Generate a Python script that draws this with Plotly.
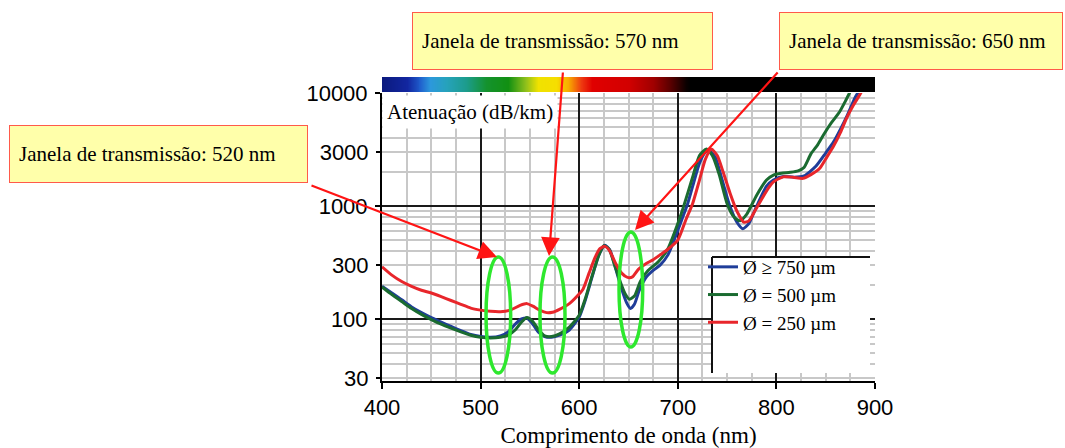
import math
import plotly.graph_objects as go

# Attenuation spectra of PMMA optical fibres, three core diameters (dB/km)
wl_blue = [400, 410, 420, 430, 440, 450, 460, 470, 480, 490, 500, 510, 520, 528, 535, 541, 547,
           553, 559, 565, 572, 580, 590, 600, 606, 613, 620, 626, 631, 637, 643, 648, 652, 656,
           661, 668, 675, 682, 690, 700, 705, 710, 716, 722, 728, 732, 738, 745, 752, 760, 766,
           772, 780, 790, 797, 807, 818, 828, 840, 850, 858, 865, 872, 880, 884]
att_blue = [195, 170, 148, 128, 114, 103, 94, 86, 79, 73, 70, 69, 71, 77, 90, 100, 102,
            90, 76, 70, 69, 72, 80, 104, 145, 235, 370, 450, 410, 280, 185, 140, 124, 135,
            180, 235, 270, 300, 370, 610, 800, 1050, 1600, 2400, 3000, 3100, 2700, 1700, 1050, 720, 630,
            700, 1000, 1500, 1700, 1830, 1800, 1850, 2250, 2950, 3700, 4800, 6400, 9200, 10500]

wl_green = [400, 410, 420, 430, 440, 450, 460, 470, 480, 490, 500, 510, 520, 528, 535, 541, 547,
            553, 559, 565, 572, 580, 590, 600, 606, 613, 620, 625, 630, 636, 642, 647, 651, 656,
            662, 670, 680, 690, 700, 706, 715, 722, 729, 735, 742, 750, 757, 763, 770, 780, 790,
            797, 805, 814, 822, 828, 835, 842, 848, 856, 864, 870, 876]
att_green = [192, 165, 143, 124, 110, 99, 90, 83, 77, 72, 69, 68, 69, 72, 80, 93, 103,
             95, 80, 71, 70, 74, 85, 108, 150, 240, 370, 445, 420, 300, 210, 165, 150, 160,
             215, 270, 320, 420, 700, 1000, 1800, 2800, 3200, 2800, 1900, 1050, 800, 740, 850, 1250, 1700,
             1880, 1950, 1990, 2050, 2200, 2900, 3500, 4300, 5500, 6800, 8500, 10800]

wl_red = [400, 410, 420, 430, 440, 450, 460, 470, 480, 490, 500, 510, 520, 530, 540, 547,
          553, 560, 567, 573, 580, 590, 598, 604, 610, 616, 621, 626, 631, 637, 643, 649, 654,
          660, 668, 675, 683, 690, 700, 708, 715, 722, 728, 734, 740, 746, 753, 760, 767, 772,
          778, 785, 792, 797, 807, 817, 827, 835, 844, 851, 858, 865, 871, 878, 885, 888]
att_red = [290, 245, 215, 195, 180, 170, 158, 146, 135, 125, 120, 117, 116, 120, 132, 137,
           130, 120, 114, 115, 122, 137, 160, 185, 255, 350, 420, 440, 400, 310, 255, 234, 236,
           275, 310, 335, 375, 415, 500, 750, 1050, 1700, 2600, 3200, 2800, 2000, 1300, 900, 720, 740,
           900, 1150, 1450, 1640, 1815, 1800, 1760, 1900, 2160, 2700, 3400, 4500, 5960, 7800, 9800, 11000]

series_names = ["Ø ≥ 750 µm", "Ø = 500 µm", "Ø = 250 µm"]
series_colors = ["#1f3d99", "#1a6b30", "#e8262b"]

# Visible spectrum strip: wavelength stops and their colours
bar_wl = list(range(400, 901, 2))
spec_wl = [400, 425, 438, 449, 465, 485, 505, 528, 545, 558, 576, 589, 602, 613, 650, 675, 692, 708, 712, 900]
spec_col = ["#0b1a7e", "#1226a0", "#1f5ccc", "#2c98dc", "#26a2bc", "#1c9c8c", "#14922e", "#129012",
            "#8cbf1c", "#f0e200", "#f6de00", "#f8ac00", "#ee3a10", "#e00000", "#d20000", "#a00000",
            "#5a0000", "#0a0000", "#000000", "#000000"]

y_major = [100, 1000, 10000]       # labelled decades with heavy grid lines
y_half = [30, 300, 3000]           # labelled intermediate values
x_ticks = [400, 500, 600, 700, 800, 900]

# Transmission windows: (label, arrow tip wavelength, ellipse wavelength span)
windows = [
    ("Janela de transmissão: 520 nm", 516.6, (505.5, 530.5)),
    ("Janela de transmissão: 570 nm", 569.4, (560.2, 585.6)),
    ("Janela de transmissão: 650 nm", 656.6, (640.4, 664.4)),
]

W, H = 1065, 448
ML, MR, MT, MB = 382, 190, 77, 67
PW, PH = W - ML - MR, H - MT - MB


def px_x(p):
    return (p - ML) / PW


def px_y(p):
    return (H - MB - p) / PH


fig = go.Figure()

lo, hi = spec_wl[0], spec_wl[-1]
colorscale = [[(w - lo) / (hi - lo), c] for w, c in zip(spec_wl, spec_col)]
fig.add_trace(go.Heatmap(x=bar_wl, y=[0], z=[bar_wl], colorscale=colorscale, zmin=lo, zmax=hi,
                         showscale=False, zsmooth="best", hoverinfo="skip", yaxis="y3"))

# empty trace so the secondary left axis (30/300/3000 labels) gets its own subplot
fig.add_trace(go.Scatter(x=[], y=[], yaxis="y2", showlegend=False, hoverinfo="skip"))

for wl, att, name, col in zip([wl_blue, wl_green, wl_red], [att_blue, att_green, att_red],
                              series_names, series_colors):
    fig.add_trace(go.Scatter(x=wl, y=att, mode="lines", name=name,
                             line=dict(color=col, width=3, shape="spline", smoothing=0.6),
                             cliponaxis=True))

serif = "Liberation Serif, Times New Roman, serif"
sans = "Liberation Sans, Arial, sans-serif"

shapes = []
# legend panel: white fill with top and left rules
lx0, lx1, ly_top, ly_bot = px_x(712), px_x(870), px_y(257), px_y(373)
shapes.append(dict(type="rect", xref="paper", yref="paper", x0=lx0, x1=lx1, y0=ly_bot, y1=ly_top,
                   fillcolor="white", line=dict(width=0), layer="above"))
shapes.append(dict(type="line", xref="paper", yref="paper", x0=lx0, x1=lx1, y0=ly_top, y1=ly_top,
                   line=dict(color="#111", width=2), layer="above"))
shapes.append(dict(type="line", xref="paper", yref="paper", x0=lx0, x1=lx0, y0=ly_bot, y1=ly_top,
                   line=dict(color="#111", width=2), layer="above"))

ell_y = [(px_y(373), px_y(257)), (px_y(373), px_y(257)), (px_y(347), px_y(232))]
for (label, tip, (e0, e1)), (ey0, ey1) in zip(windows, ell_y):
    shapes.append(dict(type="circle", xref="x", yref="paper", x0=e0, x1=e1, y0=ey0, y1=ey1,
                       line=dict(color="#2ee82e", width=3.5), layer="above"))

annotations = []
annotations.append(dict(text="Atenuação (dB/km)", xref="paper", yref="paper", x=0, y=px_y(112),
                        xanchor="left", yanchor="middle", showarrow=False, bgcolor="white",
                        borderpad=4, font=dict(family=serif, size=21, color="black")))

# label boxes (left px, top px, width px) and arrow tails (px)
boxes = [(9, 125, 299), (412, 12, 301), (779, 12, 284)]
tails = [(310, 185), (563, 71), (779, 71)]
tip_y = [257, 256, 230]
for (label, tip, _), (bx, by, bw), (tx, ty), typ in zip(windows, boxes, tails, tip_y):
    annotations.append(dict(text=label, xref="paper", yref="paper", x=px_x(bx), y=px_y(by),
                            xanchor="left", yanchor="top", align="left", valign="middle",
                            width=bw - 20, height=38, borderpad=9, borderwidth=1,
                            bordercolor="#ff5a4a", bgcolor="#ffffaa", showarrow=False,
                            font=dict(family=serif, size=21, color="black")))
    tip_px = ML + (tip - 400) / 500 * PW
    annotations.append(dict(text="", xref="x", yref="paper", x=tip, y=px_y(typ),
                            ax=tx - tip_px, ay=ty - typ, showarrow=True, arrowhead=2,
                            arrowsize=1.7, arrowwidth=2.2, arrowcolor="#ff1414", standoff=0))

ylog = [math.log10(28.3), 4.0]
tickfont = dict(family=sans, size=22, color="black")

fig.update_layout(
    width=W, height=H,
    margin=dict(l=ML, r=MR, t=MT, b=MB, autoexpand=False),
    paper_bgcolor="white", plot_bgcolor="white",
    shapes=shapes, annotations=annotations,
    showlegend=True,
    legend=dict(x=px_x(703), y=px_y(248), xanchor="left", yanchor="top",
                bgcolor="rgba(0,0,0,0)", borderwidth=0, tracegroupgap=0,
                font=dict(family=serif, size=19, color="black"), itemwidth=30),
    xaxis=dict(range=[400, 900], tickvals=x_ticks, showgrid=True, gridcolor="#1a1a1a", gridwidth=2,
               ticks="outside", ticklen=6, tickwidth=2, tickcolor="black",
               showline=True, linecolor="black", linewidth=2, zeroline=False,
               tickfont=tickfont, automargin=False,
               minor=dict(dtick=25, tick0=400, showgrid=True, gridcolor="#c8c8c8", gridwidth=1.5),
               title=dict(text="Comprimento de onda (nm)", standoff=8,
                          font=dict(family=serif, size=23, color="black"))),
    yaxis=dict(type="log", range=ylog, domain=[0, 0.947], tickvals=y_major,
               ticktext=[str(v) for v in y_major], showgrid=True, gridcolor="#1a1a1a", gridwidth=2,
               ticks="outside", ticklen=5, tickwidth=2, tickcolor="black",
               showline=True, linecolor="black", linewidth=2, zeroline=False,
               tickfont=tickfont, ticklabelstandoff=3, automargin=False,
               minor=dict(dtick="D1", showgrid=True, gridcolor="#c8c8c8", gridwidth=1.5)),
    yaxis2=dict(type="log", range=ylog, domain=[0, 0.947], overlaying="y", anchor="x", side="left",
                tickvals=y_half, ticktext=[str(v) for v in y_half], showgrid=False,
                ticks="outside", ticklen=5, tickwidth=2, tickcolor="black", automargin=False,
                tickfont=tickfont, ticklabelstandoff=3, showline=False, zeroline=False),
    yaxis3=dict(domain=[0.951, 1], range=[-0.5, 0.5], anchor="x", showgrid=False, automargin=False,
                showticklabels=False, ticks="", zeroline=False, showline=False),
)

fig.write_html("out.html")
